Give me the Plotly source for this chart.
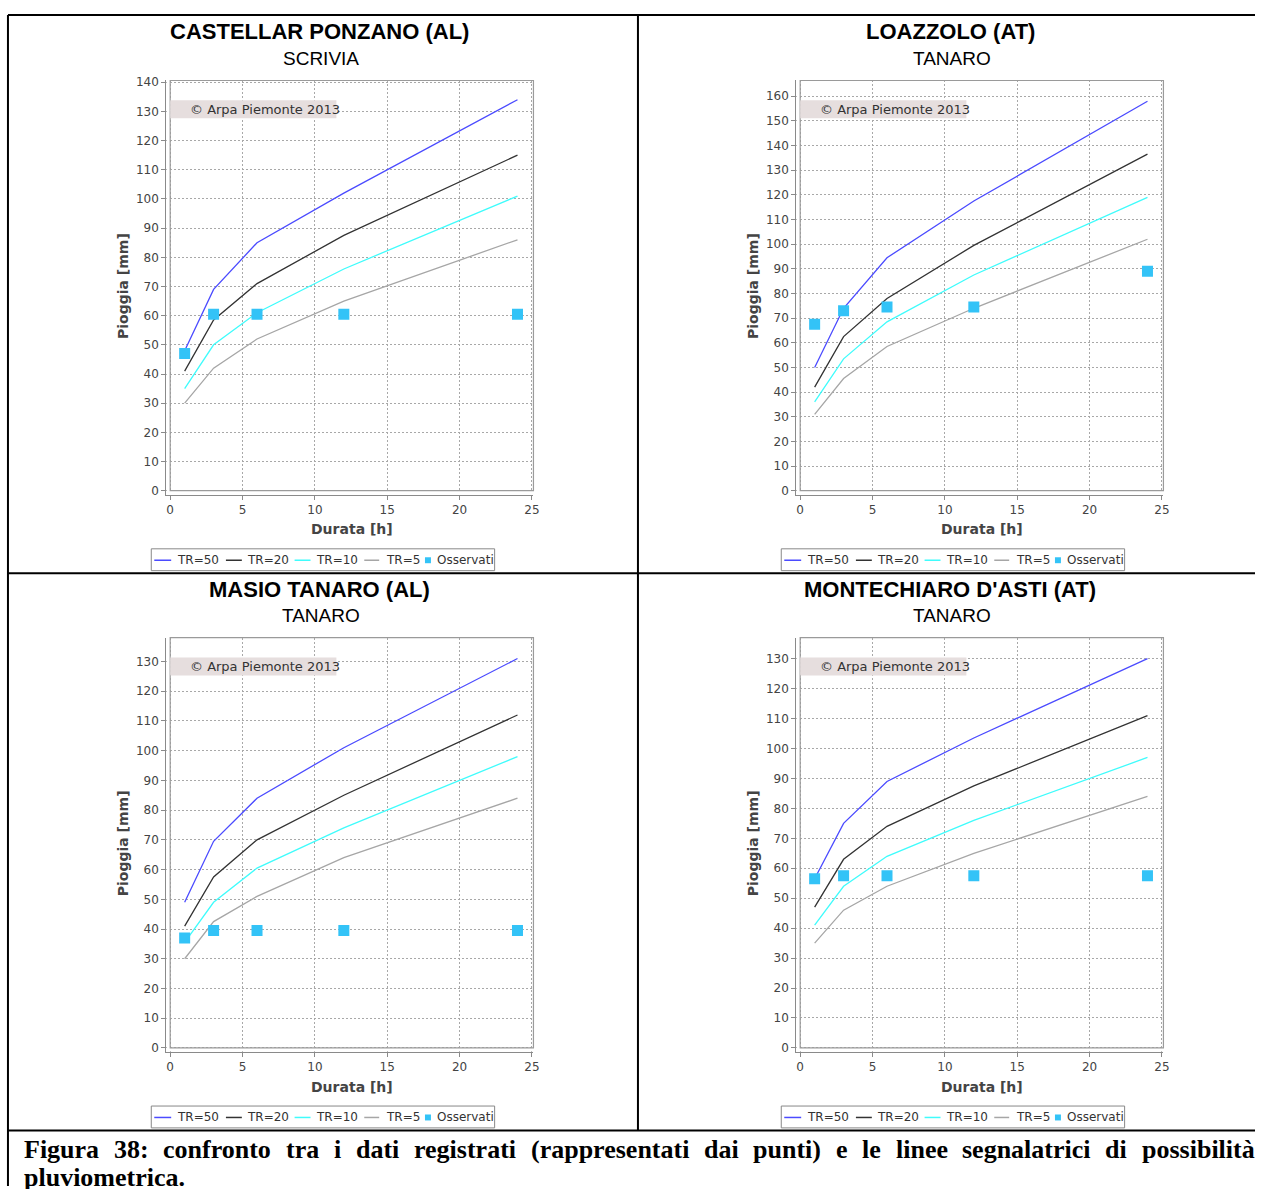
import plotly.graph_objects as go

# ---- rainfall data (mm) for durations in hours ----
durations = [1, 3, 6, 12, 24]

castellar_tr50 = [48, 69, 85, 102, 134]
castellar_tr20 = [41, 58.5, 71, 87.5, 115]
castellar_tr10 = [35, 50, 61, 76, 101]
castellar_tr5 = [30, 42, 52, 65, 86]
castellar_obs = [47, 60.5, 60.5, 60.5, 60.5]

loazzolo_tr50 = [50, 74, 94.5, 117.5, 158]
loazzolo_tr20 = [42, 62.5, 78, 99.5, 136.5]
loazzolo_tr10 = [36, 53.5, 68.5, 87.5, 119]
loazzolo_tr5 = [31, 45.5, 58.5, 74, 102]
loazzolo_obs = [67.5, 73, 74.5, 74.5, 89]

masio_tr50 = [49, 69.5, 84, 101, 131]
masio_tr20 = [41, 57.5, 70, 85, 112]
masio_tr10 = [35.5, 49, 60.5, 74, 98]
masio_tr5 = [30, 42.5, 51, 64, 84]
masio_obs = [37, 39.5, 39.5, 39.5, 39.5]

montechiaro_tr50 = [56.5, 75, 89, 103.5, 130]
montechiaro_tr20 = [47, 63, 74, 87.5, 111]
montechiaro_tr10 = [41, 54, 64, 76, 97]
montechiaro_tr5 = [35, 46, 54, 65, 84]
montechiaro_obs = [56.5, 57.5, 57.5, 57.5, 57.5]

stations = ["CASTELLAR PONZANO (AL)", "LOAZZOLO (AT)", "MASIO TANARO (AL)", "MONTECHIARO D'ASTI (AT)"]
basins = ["SCRIVIA", "TANARO", "TANARO", "TANARO"]
series_names = ["TR=50", "TR=20", "TR=10", "TR=5"]
obs_name = "Osservati"
x_ticks = [0, 5, 10, 15, 20, 25]
y_tick_tops = [140, 160, 130, 130]

station_series = [
    ([castellar_tr50, castellar_tr20, castellar_tr10, castellar_tr5], castellar_obs),
    ([loazzolo_tr50, loazzolo_tr20, loazzolo_tr10, loazzolo_tr5], loazzolo_obs),
    ([masio_tr50, masio_tr20, masio_tr10, masio_tr5], masio_obs),
    ([montechiaro_tr50, montechiaro_tr20, montechiaro_tr10, montechiaro_tr5], montechiaro_obs),
]

caption_line1 = "Figura 38: confronto tra i dati registrati (rappresentati dai punti) e le linee segnalatrici di possibilità"
caption_line2 = "pluviometrica."

# ---- styling ----
W, H = 1261, 1189
OFF = 4  # gap between axis line and plot frame
line_colors = ["#4b4bff", "#333333", "#3ffcfc", "#a6a6a6"]
obs_color = "#33c3f7"
axis_grey = "#8a8a8a"
text_grey = "#444444"
tick_font = dict(family="DejaVu Sans", size=12, color=text_grey)

# plot frames (pixel boxes) and top-of-axis values
frames = [
    dict(L=171, R=536, T=76, B=489, ymax=140.6, cx=321, ty=27),
    dict(L=804, R=1169, T=76, B=489, ymax=166.4, cx=955, ty=27),
    dict(L=171, R=536, T=637, B=1050, ymax=138.0, cx=321, ty=588),
    dict(L=804, R=1169, T=637, B=1050, ymax=137.0, cx=955, ty=588),
]
KX = 14.54  # px per hour


def px(x):
    return x / W


def py(y):
    return 1 - y / H


fig = go.Figure()
shapes = []
annotations = []

for i, fr in enumerate(frames):
    n = "" if i == 0 else str(i + 1)
    xa, ya = "x" + n, "y" + n
    curves, obs = station_series[i]
    for name, vals, col in zip(series_names, curves, line_colors):
        fig.add_trace(go.Scatter(x=durations, y=vals, mode="lines", name=name,
                                 line=dict(color=col, width=1.3),
                                 xaxis=xa, yaxis=ya, showlegend=False))
    fig.add_trace(go.Scatter(x=durations, y=obs, mode="markers", name=obs_name,
                             marker=dict(symbol="square", size=11, color=obs_color),
                             xaxis=xa, yaxis=ya, showlegend=False))

    L, R, T, B, ymax = fr["L"], fr["R"], fr["T"], fr["B"], fr["ymax"]
    ky = (B - T) / ymax
    common = dict(showline=True, linecolor=axis_grey, linewidth=1,
                  ticks="outside", ticklen=4, tickcolor=axis_grey, tickwidth=1,
                  showgrid=True, gridcolor="#a8a8a8", gridwidth=1, griddash="2px,2px",
                  zeroline=False, tickfont=tick_font, fixedrange=True)
    fig.update_layout(**{
        "xaxis" + n: dict(domain=[px(L - OFF), px(R)], range=[-OFF / KX, (R - L) / KX],
                          tickmode="array", tickvals=x_ticks, anchor=ya, **common),
        "yaxis" + n: dict(domain=[py(B + OFF), py(T)], range=[-OFF / ky, ymax],
                          tickmode="array", tickvals=list(range(0, y_tick_tops[i] + 1, 10)),
                          anchor=xa, **common),
    })

    # mask the gap between axis lines and the plot frame
    shapes.append(dict(type="rect", xref="paper", yref="paper", layer="above",
                       x0=px(L - OFF + 0.6), x1=px(L - 0.5), y0=py(B + 0.5), y1=py(T - 1),
                       fillcolor="white", line=dict(width=0)))
    shapes.append(dict(type="rect", xref="paper", yref="paper", layer="above",
                       x0=px(L - 1), x1=px(R + 1), y0=py(B + OFF - 0.6), y1=py(B + 0.5),
                       fillcolor="white", line=dict(width=0)))
    # plot frame
    shapes.append(dict(type="rect", xref="paper", yref="paper", layer="above",
                       x0=px(L), x1=px(R), y0=py(B), y1=py(T),
                       line=dict(color="#9a9a9a", width=1.2)))
    # copyright box
    shapes.append(dict(type="rect", xref="paper", yref="paper", layer="above",
                       x0=px(L), x1=px(L + 167), y0=py(T + 38), y1=py(T + 20),
                       fillcolor="#e6dede", line=dict(width=0)))
    annotations.append(dict(x=px(L + 18), y=py(T + 29), xref="paper", yref="paper",
                            text="© Arpa Piemonte 2013", showarrow=False,
                            xanchor="left", yanchor="middle",
                            font=dict(family="DejaVu Sans", size=13, color="#333333")))
    # titles
    annotations.append(dict(x=px(fr["cx"]), y=py(fr["ty"]), xref="paper", yref="paper",
                            text="<b>" + stations[i] + "</b>", showarrow=False,
                            xanchor="center", yanchor="middle",
                            font=dict(family="Liberation Sans", size=22, color="black")))
    annotations.append(dict(x=px(fr["cx"] + 2), y=py(fr["ty"] + 27), xref="paper", yref="paper",
                            text=basins[i], showarrow=False,
                            xanchor="center", yanchor="middle",
                            font=dict(family="Liberation Sans", size=19, color="black")))
    # axis titles
    annotations.append(dict(x=px(L - 48), y=py((T + B) / 2), xref="paper", yref="paper",
                            text="<b>Pioggia [mm]</b>", showarrow=False, textangle=-90,
                            xanchor="center", yanchor="middle",
                            font=dict(family="DejaVu Sans", size=14, color=text_grey)))
    annotations.append(dict(x=px((L + R) / 2), y=py(B + 39), xref="paper", yref="paper",
                            text="<b>Durata [h]</b>", showarrow=False,
                            xanchor="center", yanchor="middle",
                            font=dict(family="DejaVu Sans", size=14, color=text_grey)))

    # legend drawn under each chart
    lx0 = L - 19
    ly = B + 70
    shapes.append(dict(type="rect", xref="paper", yref="paper",
                       x0=px(lx0), x1=px(lx0 + 345), y0=py(ly + 10.5), y1=py(ly - 11.5),
                       fillcolor="white", line=dict(color="#888888", width=1)))
    seg = [(3, 20, 24), (75, 91, 94), (144, 160, 164), (214, 229, 234)]
    for (a, b, t), name, col in zip(seg, series_names, line_colors):
        shapes.append(dict(type="line", xref="paper", yref="paper",
                           x0=px(lx0 + a), x1=px(lx0 + b), y0=py(ly), y1=py(ly),
                           line=dict(color=col, width=1.5)))
        annotations.append(dict(x=px(lx0 + t), y=py(ly), xref="paper", yref="paper",
                                text=name, showarrow=False, xanchor="left", yanchor="middle",
                                font=dict(family="DejaVu Sans", size=12, color="#333333")))
    shapes.append(dict(type="rect", xref="paper", yref="paper",
                       x0=px(lx0 + 275), x1=px(lx0 + 281), y0=py(ly + 3), y1=py(ly - 3),
                       fillcolor=obs_color, line=dict(width=0)))
    annotations.append(dict(x=px(lx0 + 285), y=py(ly), xref="paper", yref="paper",
                            text=obs_name, showarrow=False, xanchor="left", yanchor="middle",
                            font=dict(family="DejaVu Sans", size=12, color="#333333")))

# ---- table borders ----
border = dict(color="black", width=2)
for x0, y0, x1, y1 in [(8, 10, 8, 1189), (8, 10, 1261, 10), (641, 10, 641, 1133),
                       (8, 572, 1261, 572), (8, 1133, 1261, 1133)]:
    shapes.append(dict(type="line", xref="paper", yref="paper",
                       x0=px(x0), y0=py(y0), x1=px(x1), y1=py(y1), line=border))

# ---- caption: first line justified between the cell margins ----
# Times-Bold advance widths (1/1000 em) for the glyphs in the caption
TIMES_BOLD = {"F": 611, "(": 333, ")": 333, ":": 333, ".": 250, "3": 500, "8": 500,
              "a": 500, "b": 556, "c": 444, "d": 556, "e": 444, "f": 333, "g": 500,
              "h": 556, "i": 278, "l": 278, "m": 833, "n": 556, "o": 500, "p": 556,
              "r": 444, "s": 389, "t": 333, "u": 556, "v": 500, "y": 500, "à": 500}
CAP_SIZE = 26
CAP_LEFT, CAP_RIGHT = 22, 1258
words = caption_line1.split(" ")
widths = [sum(TIMES_BOLD.get(c, 500) for c in w) * CAP_SIZE / 1000 for w in words]
gap = (CAP_RIGHT - CAP_LEFT - sum(widths)) / (len(words) - 1)
cap_font = dict(family="Liberation Serif", size=CAP_SIZE, color="black")
xpos = CAP_LEFT
for w, wd in zip(words, widths):
    annotations.append(dict(x=px(xpos), y=py(1152), xref="paper", yref="paper",
                            text="<b>" + w + "</b>", showarrow=False,
                            xanchor="left", yanchor="middle", font=cap_font))
    xpos += wd + gap
annotations.append(dict(x=px(CAP_LEFT), y=py(1180), xref="paper", yref="paper",
                        text="<b>" + caption_line2 + "</b>", showarrow=False,
                        xanchor="left", yanchor="middle", font=cap_font))

fig.update_layout(width=W, height=H, margin=dict(l=0, r=0, t=0, b=0),
                  paper_bgcolor="white", plot_bgcolor="white",
                  showlegend=False, shapes=shapes, annotations=annotations)

fig.write_html("out.html")
